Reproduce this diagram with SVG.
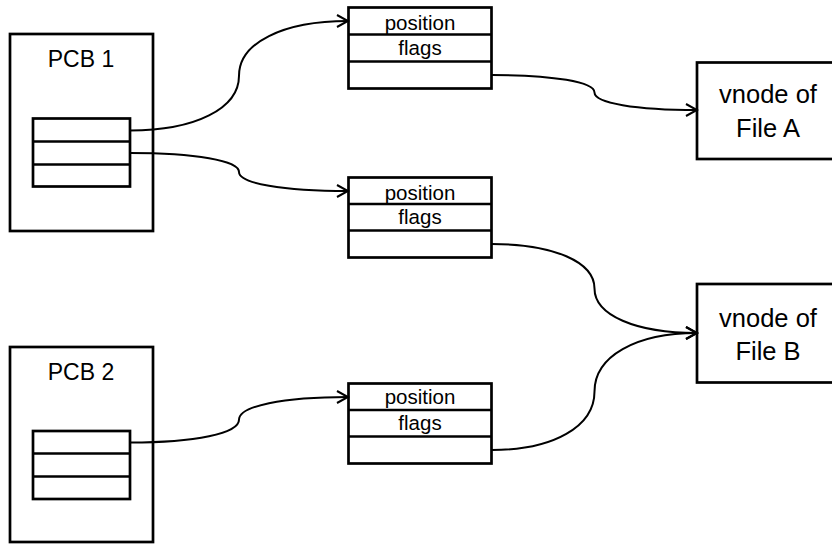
<svg xmlns="http://www.w3.org/2000/svg" width="832" height="544" viewBox="0 0 832 544">
  <style>
    .box { fill: #ffffff; stroke: #000000; stroke-width: 2.7; }
    .sep { stroke: #000000; stroke-width: 2.7; }
    .link { fill: none; stroke: #000000; stroke-width: 2; marker-end: url(#open-arrow); }
    text { font-family: "Liberation Sans", Arial, sans-serif; fill: #000000; text-anchor: middle; }
    .title { font-size: 23px; }
    .field { font-size: 20.5px; }
    .vnode { font-size: 25.5px; }
  </style>
  <defs>
    <marker id="open-arrow" viewBox="0 0 14 14" refX="12" refY="7" markerWidth="14" markerHeight="14" markerUnits="userSpaceOnUse" orient="auto">
      <path d="M1,1 L12,7 L1,13" fill="none" stroke="#000000" stroke-width="2"/>
    </marker>
  </defs>

  <rect width="832" height="544" fill="#ffffff"/>

  <!-- process control blocks with their open-file tables -->
  <g id="pcb1">
    <rect class="box" x="10" y="34" width="143" height="197"/>
    <text class="title" x="81" y="67">PCB 1</text>
    <rect class="box" x="33" y="118.5" width="97" height="68"/>
    <line class="sep" x1="33" y1="141.5" x2="130" y2="141.5"/>
    <line class="sep" x1="33" y1="164.5" x2="130" y2="164.5"/>
  </g>

  <g id="pcb2">
    <rect class="box" x="10" y="347" width="143" height="195"/>
    <text class="title" x="81" y="380">PCB 2</text>
    <rect class="box" x="33" y="431" width="97" height="68"/>
    <line class="sep" x1="33" y1="453.5" x2="130" y2="453.5"/>
    <line class="sep" x1="33" y1="476.5" x2="130" y2="476.5"/>
  </g>

  <!-- system-wide open file entries -->
  <g id="entry1">
    <rect class="box" x="348.5" y="7.5" width="143" height="81"/>
    <line class="sep" x1="348.5" y1="34.5" x2="491.5" y2="34.5"/>
    <line class="sep" x1="348.5" y1="61.5" x2="491.5" y2="61.5"/>
    <text class="field" x="420" y="29.5">position</text>
    <text class="field" x="420" y="55">flags</text>
  </g>

  <g id="entry2">
    <rect class="box" x="348.5" y="177.5" width="143" height="80"/>
    <line class="sep" x1="348.5" y1="204" x2="491.5" y2="204"/>
    <line class="sep" x1="348.5" y1="230.5" x2="491.5" y2="230.5"/>
    <text class="field" x="420" y="199.5">position</text>
    <text class="field" x="420" y="224">flags</text>
  </g>

  <g id="entry3">
    <rect class="box" x="348.5" y="383.5" width="143" height="80"/>
    <line class="sep" x1="348.5" y1="410" x2="491.5" y2="410"/>
    <line class="sep" x1="348.5" y1="436.5" x2="491.5" y2="436.5"/>
    <text class="field" x="420" y="404">position</text>
    <text class="field" x="420" y="430">flags</text>
  </g>

  <!-- vnodes -->
  <g id="vnodeA">
    <rect class="box" x="697" y="62.5" width="170" height="96.5"/>
    <text class="vnode" x="768" y="103">vnode of</text>
    <text class="vnode" x="768" y="137">File A</text>
  </g>

  <g id="vnodeB">
    <rect class="box" x="697" y="284" width="170" height="98.5"/>
    <text class="vnode" x="768" y="327">vnode of</text>
    <text class="vnode" x="768" y="360">File B</text>
  </g>

  <!-- pointers -->
  <g id="connectors">
    <path class="link" d="M130,130.5 C195.4,130.5 239,108.6 239,75.75 C239,42.9 282.6,21 348,21"/>
    <path class="link" d="M130,153 C195.4,153 239,160.6 239,172 C239,183.4 282.6,191 348,191"/>
    <path class="link" d="M492,75 C553.5,75 594.5,82 594.5,92.5 C594.5,103 635.5,110 697,110"/>
    <path class="link" d="M492,244 C553.5,244 594.5,261.8 594.5,288.5 C594.5,315.2 635.5,333 697,333"/>
    <path class="link" d="M492,450 C553.5,450 594.5,426.6 594.5,391.5 C594.5,356.4 635.5,333 697,333"/>
    <path class="link" d="M130,442.5 C195.4,442.5 239,433.4 239,419.75 C239,406.1 282.6,397 348,397"/>
  </g>
</svg>
